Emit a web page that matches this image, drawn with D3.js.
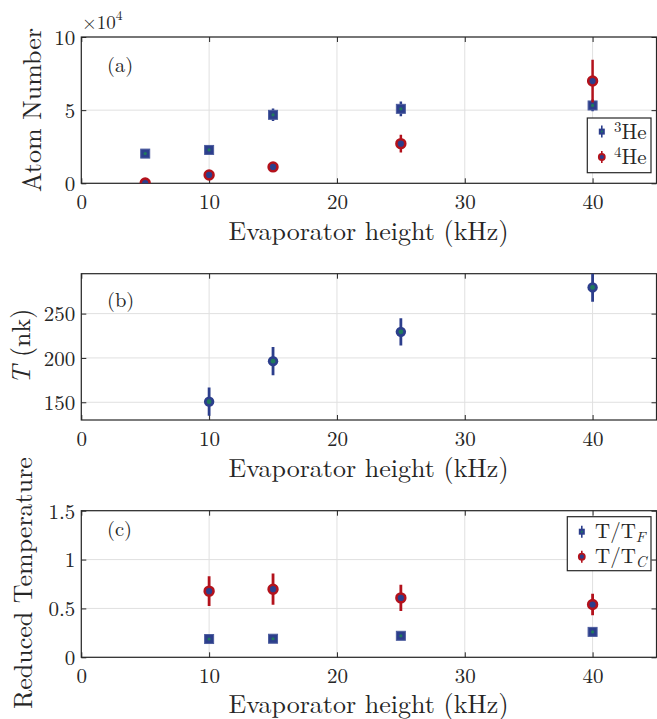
<!DOCTYPE html>
<html>
<head>
<meta charset="utf-8">
<script src="https://cdn.jsdelivr.net/npm/d3@7"></script>
<style>
  body { margin: 0; background: #fff; }
  svg text { font-family: "Latin Modern Roman", "Liberation Serif", serif; fill: #262626; }
</style>
</head>
<body>
<div id="chart"></div>
<script>
// x positions (evaporator height, kHz)
var xTicks = [0, 10, 20, 30, 40];

// panel (a): atom number, in units of 1e4
var heightsA = [5, 10, 15, 25, 40];
var atom3He = [2.03, 2.28, 4.68, 5.09, 5.32];
var atom3HeErr = [0.08, 0.1, 0.43, 0.5, 0.4];
var atom4He = [0.02, 0.57, 1.12, 2.71, 6.99];
var atom4HeErr = [0.05, 0.1, 0.12, 0.6, 1.46];
var ticksA = [0, 5, 10];

// panel (b): temperature (nK)
var heightsB = [10, 15, 25, 40];
var tempNk = [150.7, 196.4, 229.4, 279.5];
var tempErr = [16, 16, 15.4, 16];
var ticksB = [150, 200, 250];

// panel (c): reduced temperature
var heightsC = [10, 15, 25, 40];
var tOverTF = [0.187, 0.19, 0.22, 0.26];
var tOverTFErr = [0.02, 0.02, 0.025, 0.035];
var tOverTC = [0.677, 0.697, 0.608, 0.54];
var tOverTCErr = [0.153, 0.16, 0.135, 0.11];
var ticksC = [0, 0.5, 1, 1.5];
var ticksCLabels = ['0', '0.5', '1', '1.5'];

var W = 657, H = 719;
var FONT = '"Latin Modern Roman", "Liberation Serif", serif';
var blue = '#2c3e8c', red = '#b3121c', green = '#1f7a5c';

var svg = d3.select('#chart').append('svg')
  .attr('width', W)
  .attr('height', H);

var x = d3.scaleLinear().domain([0, 45]).range([81.3, 656.5]);

function panel(id, top, bottom, yDomain, yTicks, yLabels) {
  var y = d3.scaleLinear().domain(yDomain).range([bottom, top]);
  var g = svg.append('g');

  svg.append('clipPath').attr('id', 'clip' + id)
    .append('rect')
    .attr('x', x.range()[0]).attr('y', top)
    .attr('width', x.range()[1] - x.range()[0])
    .attr('height', bottom - top);

  // grid
  g.selectAll('.gx').data(xTicks).enter().append('line')
    .attr('x1', d => x(d)).attr('x2', d => x(d))
    .attr('y1', top).attr('y2', bottom)
    .style('stroke', '#e0e0e0').style('stroke-width', 1);
  g.selectAll('.gy').data(yTicks).enter().append('line')
    .attr('x1', x.range()[0]).attr('x2', x.range()[1])
    .attr('y1', d => y(d)).attr('y2', d => y(d))
    .style('stroke', '#e0e0e0').style('stroke-width', 1);

  // axes (ticks pointing inside)
  var ax = d3.axisBottom(x).tickValues(xTicks).tickSizeInner(-5).tickSizeOuter(0).tickPadding(11);
  var gxAxis = g.append('g').attr('transform', 'translate(0,' + bottom + ')').call(ax);
  var ay = d3.axisLeft(y).tickValues(yTicks).tickSizeInner(-5).tickSizeOuter(0).tickPadding(6)
    .tickFormat((d, i) => yLabels ? yLabels[i] : d);
  var gyAxis = g.append('g').attr('transform', 'translate(' + x.range()[0] + ',0)').call(ay);
  // mirrored ticks
  var gTop = g.append('g').attr('transform', 'translate(0,' + top + ')')
    .call(d3.axisTop(x).tickValues(xTicks).tickSizeInner(-5).tickSizeOuter(0).tickFormat(''));
  var gRight = g.append('g').attr('transform', 'translate(' + x.range()[1] + ',0)')
    .call(d3.axisRight(y).tickValues(yTicks).tickSizeInner(-5).tickSizeOuter(0).tickFormat(''));

  [gxAxis, gyAxis, gTop, gRight].forEach(function (a) {
    a.attr('font-family', null).attr('font-size', null);
    a.select('.domain').remove();
    a.selectAll('line').style('stroke', '#262626').style('stroke-width', 1);
    a.selectAll('text').style('font-size', '21px').style('font-family', FONT)
      .attr('fill', '#262626');
  });
  gyAxis.selectAll('text').attr('dy', '0.35em');

  g.append('rect')
    .attr('x', x.range()[0]).attr('y', top)
    .attr('width', x.range()[1] - x.range()[0])
    .attr('height', bottom - top)
    .style('fill', 'none').style('stroke', '#262626').style('stroke-width', 1.2);

  var plot = svg.append('g').attr('clip-path', 'url(#clip' + id + ')');
  return {y: y, g: g, plot: plot};
}

function errorBars(p, xs, ys, es, color, width) {
  p.plot.append('g').selectAll('line').data(xs).enter().append('line')
    .attr('x1', d => x(d)).attr('x2', d => x(d))
    .attr('y1', (d, i) => p.y(ys[i] - es[i]))
    .attr('y2', (d, i) => p.y(ys[i] + es[i]))
    .style('stroke', color).style('stroke-width', width);
}

function squares(p, xs, ys) {
  var s = p.plot.append('g');
  s.selectAll('rect.sq').data(xs).enter().append('rect')
    .attr('x', d => x(d) - 4.5).attr('y', (d, i) => p.y(ys[i]) - 4.5)
    .attr('width', 9).attr('height', 9)
    .style('fill', blue).style('stroke', '#4d5d9e').style('stroke-width', 1);
  s.selectAll('circle.ctr').data(xs).enter().append('circle')
    .attr('cx', d => x(d)).attr('cy', (d, i) => p.y(ys[i]))
    .attr('r', 1.6).style('fill', green);
}

function redCircles(p, xs, ys) {
  p.plot.append('g').selectAll('circle').data(xs).enter().append('circle')
    .attr('cx', d => x(d)).attr('cy', (d, i) => p.y(ys[i]))
    .attr('r', 4.4).style('fill', blue).style('stroke', red).style('stroke-width', 2.6);
}

function blueCircles(p, xs, ys) {
  var s = p.plot.append('g');
  s.selectAll('circle.o').data(xs).enter().append('circle')
    .attr('cx', d => x(d)).attr('cy', (d, i) => p.y(ys[i]))
    .attr('r', 5.2).style('fill', blue);
  s.selectAll('circle.c').data(xs).enter().append('circle')
    .attr('cx', d => x(d)).attr('cy', (d, i) => p.y(ys[i]))
    .attr('r', 2.4).style('fill', green);
}

function xTitle(yPos) {
  svg.append('text').attr('x', 368.5).attr('y', yPos)
    .attr('text-anchor', 'middle').style('font-size', '26px')
    .text('Evaporator height (kHz)');
}

function yTitle(xPos, yPos) {
  return svg.append('text')
    .attr('transform', 'translate(' + xPos + ',' + yPos + ') rotate(-90)')
    .attr('text-anchor', 'middle').style('font-size', '26px');
}

function panelLabel(txt, yPos) {
  svg.append('text').attr('x', 107).attr('y', yPos).style('font-size', '20.5px').text(txt);
}

function legend(left, top, right, bottom, entries) {
  svg.append('rect').attr('x', left).attr('y', top)
    .attr('width', right - left).attr('height', bottom - top)
    .style('fill', '#fff').style('stroke', '#262626').style('stroke-width', 1.2);
  entries.forEach(function (e) {
    var cx = left + 14.5;
    svg.append('line').attr('x1', cx).attr('x2', cx).attr('y1', e.y - 6).attr('y2', e.y + 6)
      .style('stroke', e.kind === 'sq' ? blue : red).style('stroke-width', 1.6);
    if (e.kind === 'sq') {
      svg.append('rect').attr('x', cx - 3).attr('y', e.y - 3).attr('width', 6).attr('height', 6)
        .style('fill', blue);
      svg.append('circle').attr('cx', cx).attr('cy', e.y).attr('r', 1).style('fill', green);
    } else {
      svg.append('circle').attr('cx', cx).attr('cy', e.y).attr('r', 3)
        .style('fill', blue).style('stroke', red).style('stroke-width', 1.8);
    }
    var t = svg.append('text').attr('x', e.tx).attr('y', e.ty).style('font-size', '21px');
    e.render(t);
  });
}

// ---------- panel (a)
var pa = panel('a', 37, 183.3, [0, 10], ticksA);
errorBars(pa, heightsA, atom3He, atom3HeErr, blue, 2.5);
squares(pa, heightsA, atom3He);
errorBars(pa, heightsA, atom4He, atom4HeErr, red, 2.5);
redCircles(pa, heightsA, atom4He);
xTitle(240);
yTitle(41, 110).text('Atom Number');
panelLabel('(a)', 72);
var mult = svg.append('text').attr('x', 82).attr('y', 29.3).style('font-size', '19px');
mult.append('tspan').text('\u00d710');
mult.append('tspan').attr('dy', -9).style('font-size', '13.5px').text('4');

legend(587.3, 118, 651, 172.7, [
  {y: 131.6, tx: 614, ty: 138.5, kind: 'sq', render: t => { t.append('tspan').attr('dy', -7).style('font-size', '15px').text('3'); t.append('tspan').attr('dy', 7).text('He'); }},
  {y: 157, tx: 614, ty: 163.5, kind: 'ci', render: t => { t.append('tspan').attr('dy', -7).style('font-size', '15px').text('4'); t.append('tspan').attr('dy', 7).text('He'); }}
]);

// ---------- panel (b)
var pb = panel('b', 273.7, 420, [130, 295], ticksB);
errorBars(pb, heightsB, tempNk, tempErr, blue, 2.8);
blueCircles(pb, heightsB, tempNk);
xTitle(477);
var tb = yTitle(30, 346.5);
tb.append('tspan').style('font-style', 'italic').text('T');
tb.append('tspan').text(' (nk)');
panelLabel('(b)', 307);

// ---------- panel (c)
var pc = panel('c', 510.7, 657.3, [0, 1.5], ticksC, ticksCLabels);
errorBars(pc, heightsC, tOverTF, tOverTFErr, blue, 2.5);
squares(pc, heightsC, tOverTF);
errorBars(pc, heightsC, tOverTC, tOverTCErr, red, 2.8);
redCircles(pc, heightsC, tOverTC);
xTitle(713);
yTitle(32, 583).text('Reduced Temperature');
panelLabel('(c)', 535.5);

legend(567.3, 516.7, 651, 570.7, [
  {y: 531.7, tx: 595, ty: 538.3, kind: 'sq', render: t => { t.append('tspan').text('T/T'); t.append('tspan').attr('dy', 4).style('font-size', '15px').style('font-style', 'italic').text('F'); }},
  {y: 556.7, tx: 595, ty: 563.3, kind: 'ci', render: t => { t.append('tspan').text('T/T'); t.append('tspan').attr('dy', 4).style('font-size', '15px').style('font-style', 'italic').text('C'); }}
]);
</script>
</body>
</html>
